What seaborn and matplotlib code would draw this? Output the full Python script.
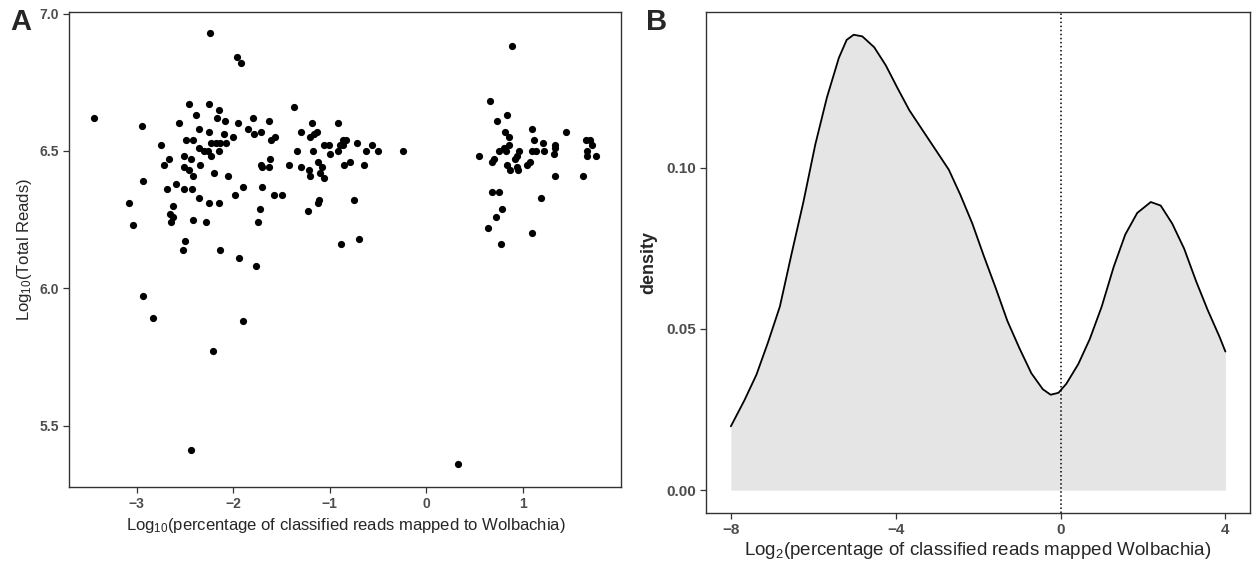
import matplotlib
matplotlib.use("Agg")
import matplotlib.pyplot as plt
import pandas as pd
import seaborn as sns


# panel A: log10(% classified reads mapped to Wolbachia) vs log10(total reads)
LOG_PCT = [
    -3.44, -2.95, -2.24, -1.96, -1.92, -2.46, -2.25, -2.15, -2.39, -2.17,
    -2.09, -1.95, -1.80, -1.63, -2.56, -2.35, -2.25, -2.10, -2.00, -1.85,
    -1.78, -1.71, -1.61, -1.57, -1.37, -1.18, -0.91, -1.30, -1.21, -1.16,
    -1.13, -0.86, -0.83, -0.72, -2.75, -2.49, -2.42, -2.35, -2.30, -2.26,
    -2.23, -2.18, -2.14, -2.08, -2.15, -2.23, -1.34, -1.17, -1.06, -1.01,
    -1.00, -0.92, -0.86, -2.67, -2.72, -2.51, -2.44, -2.51, -2.46, -2.42,
    -2.34, -2.20, -2.05, -1.71, -1.70, -1.63, -1.62, -1.42, -1.30, -1.22,
    -1.20, -1.12, -1.10, -1.08, -1.06, -0.85, -0.79, -2.93, -2.69, -2.59,
    -2.51, -2.43, -2.36, -1.98, -1.90, -1.70, -1.58, -1.50, -3.08, -2.62,
    -2.25, -2.15, -2.66, -2.62, -2.42, -2.28, -2.64, -1.72, -1.74, -3.04,
    -1.23, -1.11, -1.12, -0.75, -2.50, -2.52, -2.14, -0.88, -0.70,
    -0.62, -0.56, -0.50, -0.24, -0.65, -0.89,
    0.89, 0.66, 0.73, 0.84, 1.10, 1.45, 0.82, 0.86, 1.12, 1.21,
    1.33, 1.65, 1.70, 1.72, 0.55, 0.70, 0.68, 0.75, 0.80, 0.86,
    0.83, 0.96, 0.94, 0.92, 0.84, 0.87, 0.94, 0.95, 1.04, 1.07,
    1.10, 1.14, 1.22, 1.32, 1.33, 1.66, 1.66, 1.76, 1.33, 1.62,
    0.68, 0.75, 1.19, 0.78, 0.72, 0.64, 0.77, 1.09,
    -1.94, -1.76, -2.94, -2.83, -1.90, -2.21, -2.44, 0.33,
]
LOG_READS = [
    6.62, 6.59, 6.93, 6.84, 6.82, 6.67, 6.67, 6.65, 6.63, 6.62,
    6.61, 6.60, 6.62, 6.61, 6.60, 6.58, 6.57, 6.56, 6.55, 6.58,
    6.56, 6.57, 6.54, 6.55, 6.66, 6.60, 6.60, 6.57, 6.55, 6.56,
    6.57, 6.54, 6.54, 6.53, 6.52, 6.54, 6.54, 6.51, 6.50, 6.50,
    6.53, 6.53, 6.53, 6.53, 6.50, 6.48, 6.50, 6.50, 6.52, 6.52,
    6.49, 6.50, 6.52, 6.47, 6.45, 6.48, 6.47, 6.44, 6.43, 6.41,
    6.45, 6.42, 6.41, 6.45, 6.44, 6.44, 6.47, 6.45, 6.44, 6.43,
    6.41, 6.46, 6.42, 6.44, 6.40, 6.45, 6.46, 6.39, 6.36, 6.38,
    6.36, 6.36, 6.33, 6.34, 6.37, 6.37, 6.34, 6.34, 6.31, 6.30,
    6.31, 6.31, 6.27, 6.26, 6.25, 6.24, 6.24, 6.29, 6.24, 6.23,
    6.28, 6.32, 6.31, 6.32, 6.17, 6.14, 6.14, 6.16, 6.18,
    6.50, 6.52, 6.50, 6.50, 6.45, 6.52,
    6.88, 6.68, 6.61, 6.63, 6.58, 6.57, 6.57, 6.55, 6.54, 6.53,
    6.52, 6.54, 6.54, 6.52, 6.48, 6.47, 6.46, 6.50, 6.51, 6.52,
    6.50, 6.50, 6.48, 6.47, 6.45, 6.43, 6.44, 6.43, 6.45, 6.46,
    6.50, 6.50, 6.50, 6.49, 6.51, 6.50, 6.48, 6.48, 6.41, 6.41,
    6.35, 6.35, 6.33, 6.29, 6.26, 6.22, 6.16, 6.20,
    6.11, 6.08, 5.97, 5.89, 5.88, 5.77, 5.41, 5.36,
]

# panel B: density of log2(% reads mapped Wolbachia)
DENS_X = [
    -8.00, -7.67, -7.38, -7.10, -6.81, -6.52, -6.24, -5.95, -5.67, -5.38,
    -5.19, -5.02, -4.81, -4.52, -4.24, -3.95, -3.67, -3.38, -3.00, -2.71,
    -2.43, -2.14, -1.86, -1.57, -1.29, -1.00, -0.71, -0.43, -0.24, -0.05,
    0.14, 0.43, 0.71, 1.00, 1.29, 1.57, 1.86, 2.19, 2.43, 2.71,
    3.00, 3.29, 3.57, 3.86, 4.00,
]
DENS_Y = [
    0.0198, 0.0279, 0.0358, 0.0458, 0.0570, 0.0737, 0.0894, 0.1073, 0.1218, 0.1341,
    0.1397, 0.1413, 0.1408, 0.1374, 0.1318, 0.1246, 0.1179, 0.1123, 0.1050, 0.0994,
    0.0916, 0.0827, 0.0726, 0.0626, 0.0525, 0.0441, 0.0363, 0.0313, 0.0296, 0.0302,
    0.0330, 0.0391, 0.0469, 0.0570, 0.0693, 0.0793, 0.0860, 0.0894, 0.0883, 0.0827,
    0.0749, 0.0648, 0.0559, 0.0475, 0.0430,
]

FONT = ["Liberation Sans", "DejaVu Sans"]
TICK_COL = "#4d4d4d"
EDGE_COL = "#333333"

sns.set_theme(style="ticks")
plt.rcParams["font.family"] = FONT
plt.rcParams["mathtext.fontset"] = "custom"
plt.rcParams["mathtext.rm"] = "Liberation Sans"
plt.rcParams["mathtext.it"] = "Liberation Sans:italic"


def style_axes(ax: plt.Axes, size: float) -> None:
    for s in ax.spines.values():
        s.set_visible(True)
        s.set_color(EDGE_COL)
        s.set_linewidth(1.0)
    ax.tick_params(axis="both", direction="out", length=4, width=0.9,
                   color=EDGE_COL, labelcolor=TICK_COL, labelsize=size)
    for lab in ax.get_xticklabels() + ax.get_yticklabels():
        lab.set_fontweight("bold")


fig = plt.figure(figsize=(12.52, 5.65), dpi=100)
# the two panels were not aligned in the original figure
ax_a = fig.add_axes([0.0554, 0.138, 0.441, 0.841])
ax_b = fig.add_axes([0.564, 0.092, 0.4345, 0.887])

scatter_df = pd.DataFrame({"x": LOG_PCT, "y": LOG_READS})
sns.scatterplot(data=scatter_df, x="x", y="y", ax=ax_a, color="black",
                s=27, linewidth=0)
ax_a.set_xlim(-3.698, 2.022)
ax_a.set_ylim(5.276, 7.006)
ax_a.set_xticks([-3, -2, -1, 0, 1])
ax_a.set_xticklabels(["\u22123", "\u22122", "\u22121", "0", "1"])
ax_a.set_yticks([5.5, 6.0, 6.5, 7.0])
ax_a.set_yticklabels(["5.5", "6.0", "6.5", "7.0"])
ax_a.set_xlabel("Log$_{10}$(percentage of classified reads mapped to Wolbachia)",
                fontsize=12, labelpad=3)
ax_a.set_ylabel("Log$_{10}$(Total Reads)", fontsize=12, labelpad=4)
style_axes(ax_a, 10)

dens_df = pd.DataFrame({"x": DENS_X, "y": DENS_Y})
ax_b.fill_between(dens_df["x"], 0, dens_df["y"], color="#e5e5e5", linewidth=0)
sns.lineplot(data=dens_df, x="x", y="y", ax=ax_b, color="black",
             linewidth=1.3, sort=False)
ax_b.axvline(0, color="black", linestyle=":", linewidth=1.1)
ax_b.set_xlim(-8.6, 4.6)
ax_b.set_ylim(-0.0071, 0.1484)
ax_b.set_xticks([-8, -4, 0, 4])
ax_b.set_xticklabels(["\u22128", "\u22124", "0", "4"])
ax_b.set_yticks([0.0, 0.05, 0.10])
ax_b.set_yticklabels(["0.00", "0.05", "0.10"])
ax_b.set_xlabel("Log$_{2}$(percentage of classified reads mapped Wolbachia)",
                fontsize=13.5, labelpad=2)
ax_b.set_ylabel("density", fontsize=13, fontweight="bold", labelpad=6)
style_axes(ax_b, 11)

fig.text(0.008, 0.985, "A", fontsize=21, fontweight="bold", va="top", ha="left")
fig.text(0.516, 0.985, "B", fontsize=21, fontweight="bold", va="top", ha="left")

fig.savefig("out.png", dpi=100)
